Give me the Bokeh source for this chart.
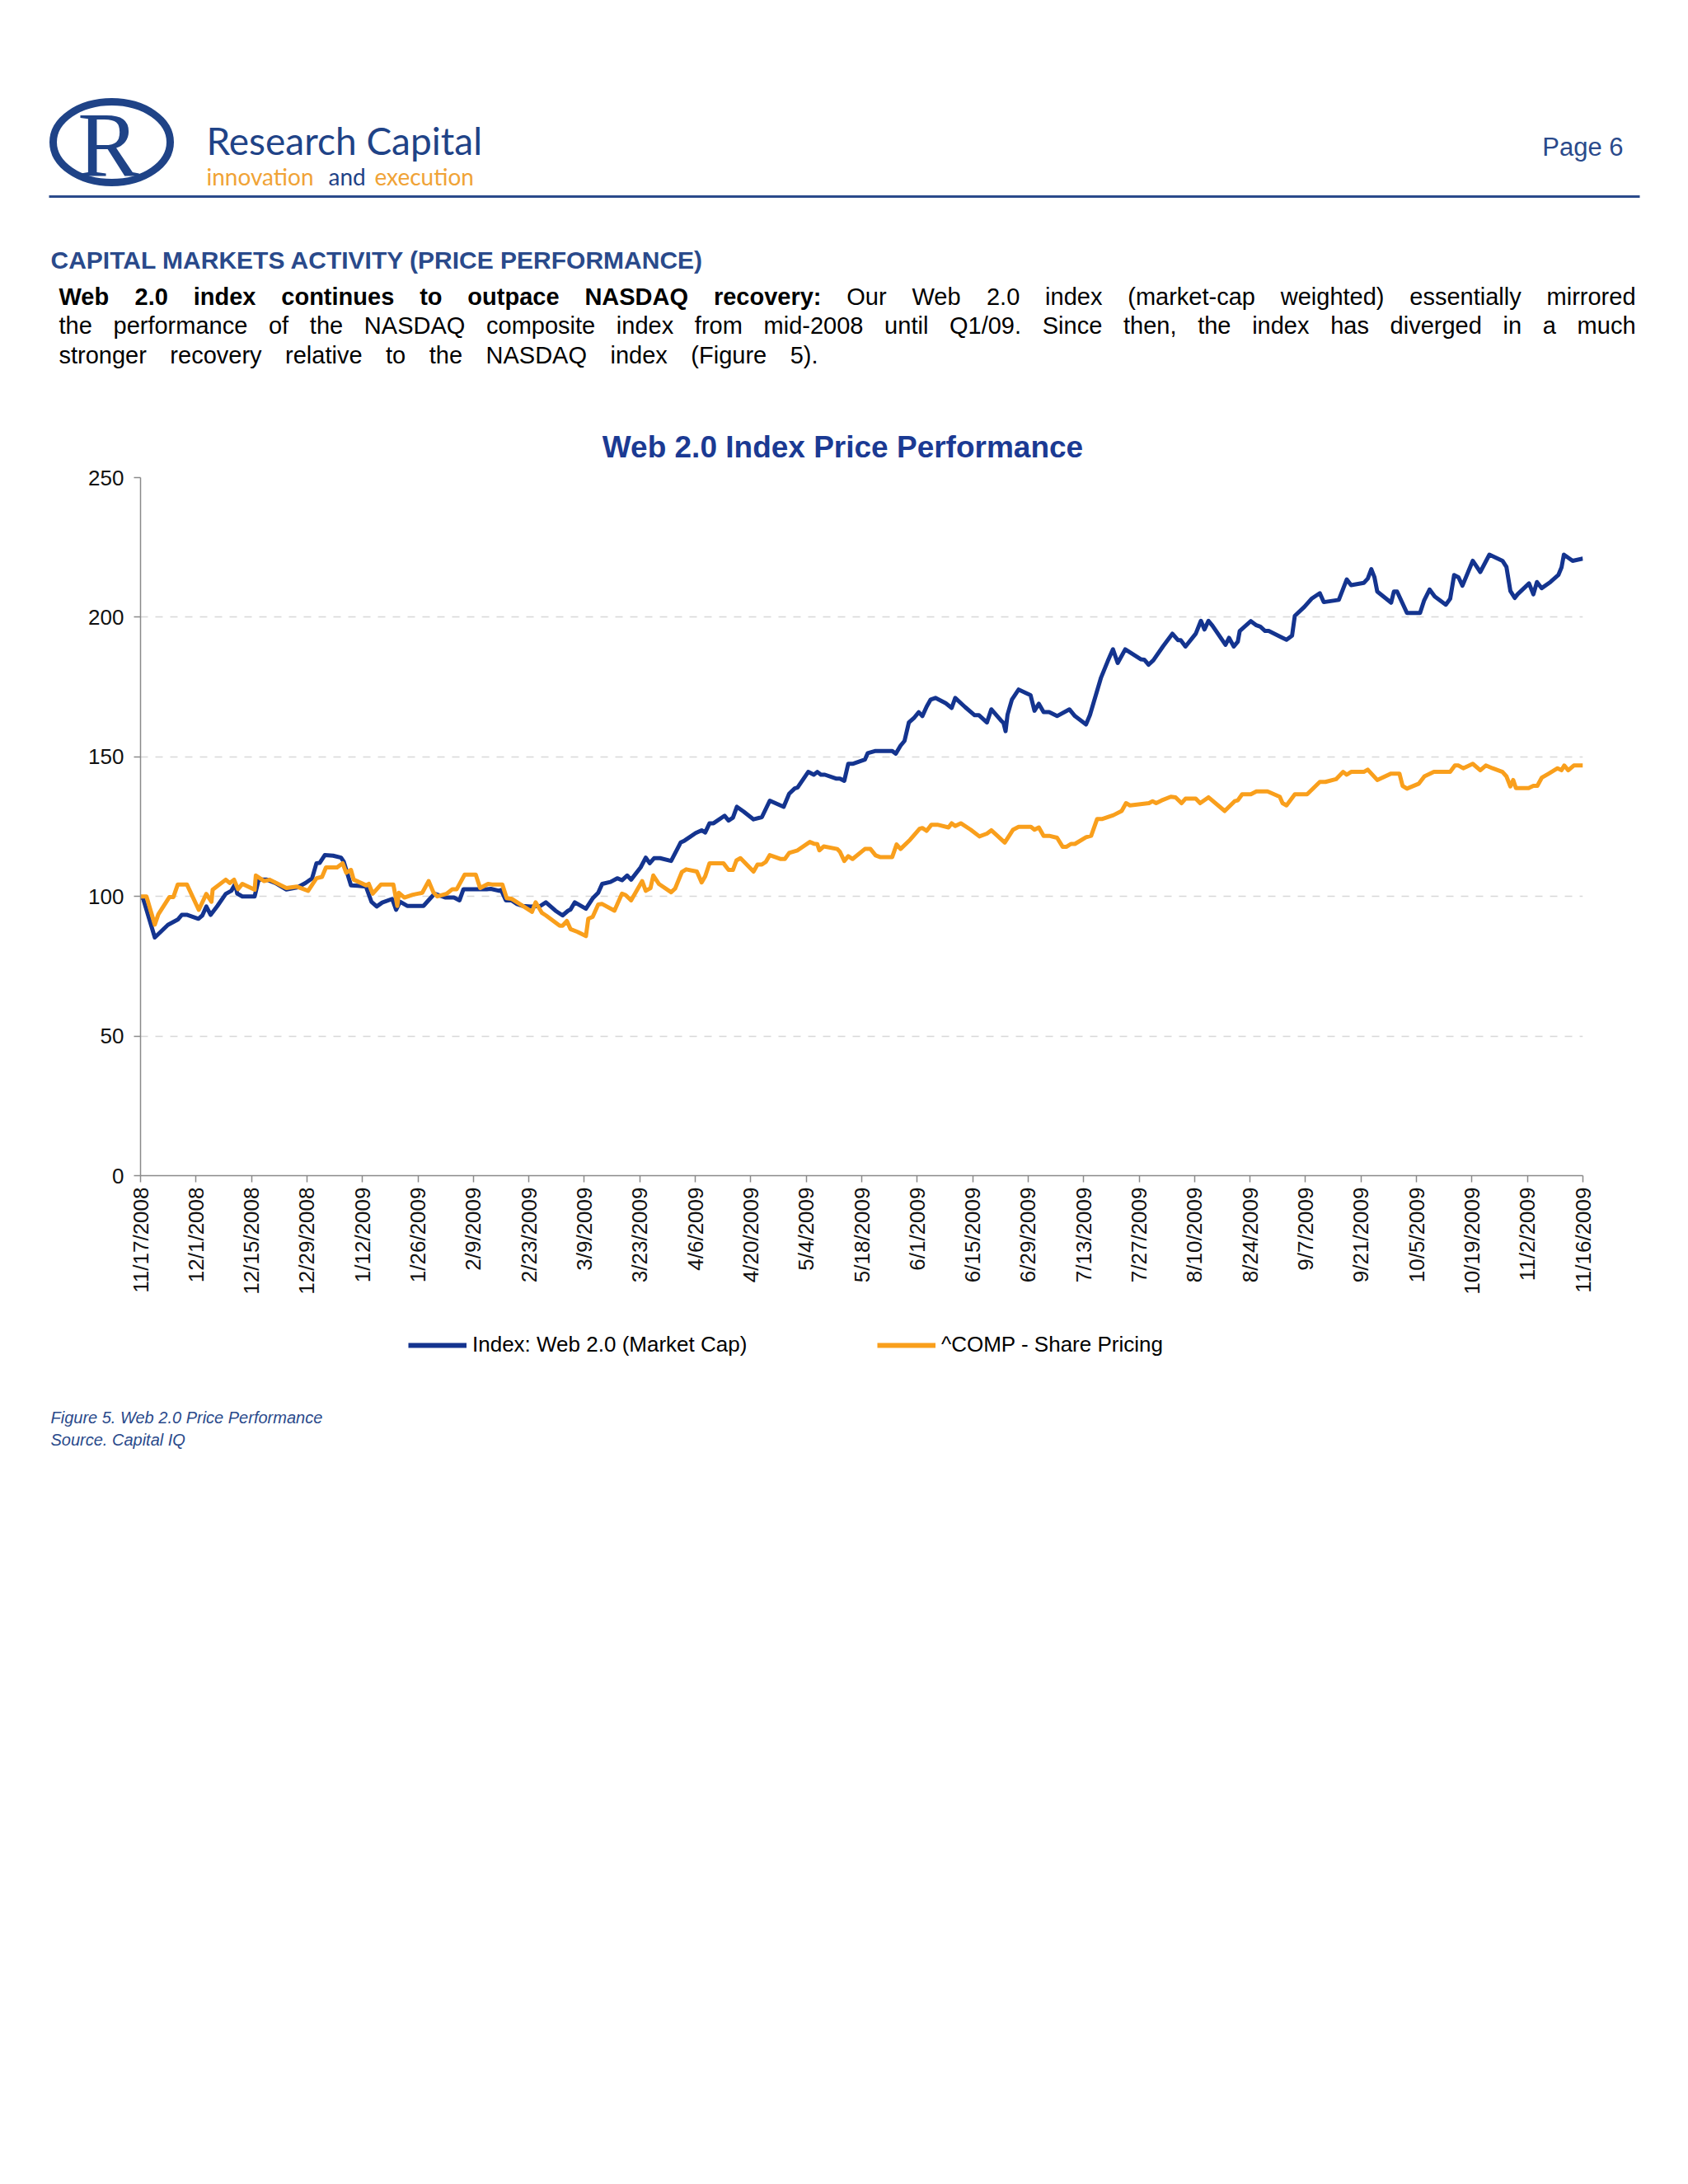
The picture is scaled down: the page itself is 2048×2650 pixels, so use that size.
import math
from bokeh.plotting import figure
from bokeh.layouts import column
from bokeh.models import Range1d, FixedTicker, Legend, LegendItem
from bokeh.core.properties import value
from bokeh.embed import file_html
from bokeh.resources import INLINE

# ---------------- data (days since 11/17/2008, index value) ----------------
web_days = [0, 0.7, 3.6, 6.9, 9.4, 10.4, 11.8, 14.6, 15.6, 16.6, 17.7, 19.4, 21.5, 22.9, 23.9,
            24.4, 25.7, 28.8, 29.8, 31.9, 34.0, 36.8, 39.5, 41.6, 43.3, 44.4, 45.2, 46.5, 48.6,
            50.6, 51.3, 53.1, 54.8, 56.9, 58.3, 59.6, 61.0, 63.5, 64.5, 65.5, 67.3, 71.4, 72.8,
            74.2, 77.0, 79.1, 80.5, 81.5, 87.4, 88.4, 90.5, 91.0, 92.2, 93.6, 95.0, 96.4, 98.5,
            100.9, 102.3, 104.7, 106.5, 107.9, 108.5, 109.6, 112.4, 114.1, 115.5, 116.5, 118.6,
            120.3, 121.5, 122.8, 123.8, 126.2, 127.5, 128.5, 129.6, 131.1, 133.9, 136.3, 137.3,
            140.1, 141.6, 142.5, 143.6, 144.6, 147.4, 148.4, 149.5, 150.5, 152.2, 154.7, 156.8,
            158.8, 162.3, 163.7, 165.1, 165.8, 168.5, 169.9, 170.8, 171.7, 172.7, 175.5, 176.5,
            177.6, 178.6, 179.7, 182.8, 183.5, 185.5, 189.7, 190.6, 191.8, 192.8, 193.9, 195.3,
            196.4, 197.3, 198.4, 199.4, 200.6, 203.2, 204.7, 205.6, 208.1, 210.5, 211.6, 213.6,
            214.7, 217.1, 217.8, 218.3, 218.8, 219.9, 221.6, 224.6, 225.6, 226.7, 227.9, 229.3,
            231.3, 234.4, 235.8, 238.6, 239.6, 242.4, 244.1, 245.4, 246.6, 248.5, 252.5, 253.3,
            254.4, 255.6, 258.0, 260.4, 261.8, 262.5, 263.7, 266.3, 267.6, 268.5, 269.5, 270.5,
            273.8, 274.7, 275.9, 276.9, 277.4, 280.2, 281.6, 282.6, 283.8, 284.7, 287.8, 289.2,
            290.6, 291.3, 293.7, 295.5, 297.6, 298.6, 302.4, 304.4, 305.5, 308.7, 309.7, 310.6,
            311.4, 312.1, 315.6, 316.3, 317.1, 319.6, 322.9, 323.9, 325.3, 326.6, 329.4, 330.5,
            331.5, 332.6, 333.6, 336.2, 338.1, 340.4, 343.7, 344.7, 345.7, 346.8, 347.5, 350.4,
            351.5, 352.4, 353.6, 355.8, 357.8, 358.6, 359.2, 361.4, 364.0]
web_vals = [100.0, 99.0, 85.3, 89.8, 91.7, 93.4, 93.4, 92.0, 93.2, 96.4, 93.4, 96.6, 100.9, 102.0,
            104.5, 101.0, 100.0, 100.0, 106.0, 106.0, 104.8, 102.5, 103.2, 104.8, 106.5, 111.9,
            112.0, 114.8, 114.6, 113.9, 112.4, 104.0, 103.8, 103.5, 98.0, 96.4, 97.8, 99.1, 95.2,
            98.1, 96.6, 96.6, 98.8, 101.0, 99.6, 99.6, 98.6, 102.6, 102.6, 102.7, 102.0, 102.3,
            98.6, 98.6, 97.3, 96.6, 96.4, 96.6, 97.9, 94.9, 93.2, 94.9, 95.3, 97.9, 95.6, 99.3,
            101.3, 104.5, 105.2, 106.5, 105.8, 107.5, 106.0, 110.4, 113.9, 111.9, 113.7, 113.7,
            112.7, 119.3, 120.0, 122.7, 123.7, 122.9, 126.2, 126.2, 128.9, 127.2, 128.2, 132.1,
            130.4, 127.6, 128.4, 134.3, 132.1, 136.8, 138.7, 139.0, 144.6, 143.6, 144.6, 143.6,
            143.6, 142.2, 142.2, 141.4, 147.5, 147.5, 149.0, 151.3, 152.1, 152.1, 151.1, 154.0,
            155.7, 162.3, 164.1, 166.0, 164.6, 168.0, 170.5, 171.1, 169.2, 167.5, 171.1, 167.8,
            164.9, 164.9, 162.3, 167.0, 163.1, 162.1, 159.2, 165.1, 170.5, 174.1, 172.1, 166.5,
            169.0, 166.0, 166.0, 164.6, 167.0, 164.6, 161.6, 165.0, 178.4, 184.3, 188.5, 183.6,
            188.5, 184.9, 184.8, 183.0, 184.6, 189.5, 194.1, 191.8, 191.8, 189.5, 194.1, 198.7,
            195.6, 198.7, 197.0, 190.1, 192.6, 189.5, 191.2, 195.1, 198.6, 197.1, 196.6, 195.1,
            195.1, 192.9, 191.9, 193.4, 200.5, 203.7, 206.6, 208.6, 205.4, 206.2, 213.5, 211.5,
            212.3, 213.8, 217.2, 214.3, 209.2, 205.2, 209.2, 209.2, 201.5, 201.5, 205.9, 209.9,
            207.4, 204.5, 206.6, 215.1, 214.3, 211.3, 220.2, 216.2, 222.4, 220.2, 218.0, 209.4,
            206.9, 208.2, 212.1, 208.2, 212.6, 210.4, 212.6, 215.1, 217.8, 222.4, 220.2, 221.0]

comp_days = [0, 1.5, 3.6, 4.5, 7.3, 8.3, 9.4, 11.7, 14.7, 16.6, 17.9, 18.2, 21.5, 22.5, 23.6, 24.6,
             25.7, 28.8, 29.1, 31.2, 32.6, 36.8, 39.5, 42.3, 44.4, 45.8, 46.8, 49.6, 51.0, 51.9,
             53.1, 53.8, 56.9, 57.6, 58.6, 60.7, 63.8, 64.8, 65.2, 66.6, 68.7, 71.1, 72.7, 73.9,
             74.9, 77.3, 78.7, 79.8, 81.8, 84.6, 85.7, 87.7, 88.7, 91.3, 92.4, 93.6, 95.7, 98.8,
             99.7, 101.3, 102.3, 105.8, 106.5, 107.6, 108.5, 110.3, 112.4, 113.0, 114.1, 115.5,
             116.5, 119.6, 121.5, 122.4, 123.8, 126.6, 127.5, 128.7, 129.4, 130.8, 133.9, 134.9,
             136.6, 137.7, 140.4, 141.6, 142.5, 143.6, 147.1, 148.4, 149.5, 150.4, 151.4, 154.7,
             155.7, 156.8, 157.8, 158.8, 161.6, 162.6, 163.7, 165.8, 168.9, 169.9, 170.8, 171.3,
             172.4, 175.8, 176.5, 177.6, 178.6, 179.7, 182.8, 184.2, 185.5, 186.6, 189.7, 190.8,
             191.8, 194.2, 196.6, 197.3, 198.4, 199.6, 201.1, 203.9, 204.7, 205.6, 207.0, 209.5,
             211.7, 213.6, 214.7, 218.1, 220.2, 221.6, 224.7, 225.6, 226.7, 227.9, 229.3, 231.3,
             232.7, 233.7, 234.8, 235.8, 238.6, 239.9, 241.4, 242.6, 245.5, 247.6, 248.7, 249.7,
             254.5, 255.4, 256.3, 257.7, 260.0, 261.2, 262.7, 263.7, 266.3, 267.4, 269.5, 273.6,
             276.1, 276.9, 278.0, 280.2, 281.6, 284.4, 287.5, 288.2, 289.2, 291.3, 294.4, 297.6,
             299.0, 301.7, 303.5, 304.4, 305.5, 308.7, 309.7, 312.1, 315.6, 317.7, 318.5, 319.6,
             322.6, 324.0, 326.4, 330.5, 331.7, 332.6, 333.8, 336.2, 338.1, 339.5, 341.2, 343.7,
             344.7, 345.7, 346.4, 347.1, 350.3, 351.5, 352.5, 353.6, 355.4, 357.6, 358.6, 359.3,
             360.3, 361.7, 364.0]
comp_vals = [100.0, 100.0, 89.9, 93.6, 99.8, 99.8, 104.3, 104.3, 95.2, 100.9, 98.1, 102.4, 106.0,
             104.8, 106.0, 102.6, 104.5, 102.4, 107.5, 105.5, 106.0, 103.0, 103.5, 102.0, 106.5,
             107.0, 110.4, 110.4, 111.9, 108.5, 109.5, 106.0, 104.0, 104.5, 101.0, 104.3, 104.3,
             96.6, 101.3, 99.6, 100.6, 101.3, 105.5, 101.5, 100.0, 101.0, 102.6, 102.6, 107.8,
             107.8, 103.0, 104.5, 104.3, 104.3, 99.4, 99.2, 97.3, 94.5, 97.9, 94.1, 93.2, 89.5,
             89.5, 91.2, 88.3, 87.3, 85.8, 92.0, 92.7, 97.1, 97.3, 94.9, 101.0, 100.5, 98.6, 105.5,
             102.0, 103.0, 107.5, 104.5, 101.5, 102.8, 108.7, 109.7, 108.9, 105.0, 107.2, 111.9,
             111.9, 109.5, 109.5, 112.9, 113.7, 108.9, 111.4, 111.4, 112.4, 114.8, 113.4, 113.4,
             115.6, 116.5, 119.5, 118.9, 118.7, 116.5, 117.9, 117.0, 116.0, 112.7, 114.4, 113.4,
             117.0, 117.0, 114.7, 114.1, 114.1, 118.6, 117.0, 120.3, 124.2, 124.5, 123.5, 125.7,
             125.7, 124.7, 126.2, 125.2, 126.2, 123.9, 121.5, 122.5, 123.7, 119.3, 123.9, 124.9,
             124.9, 123.9, 124.7, 121.7, 121.7, 121.0, 117.8, 117.8, 118.8, 118.8, 121.2, 121.7,
             127.7, 127.7, 129.1, 130.6, 133.4, 132.6, 133.4, 134.1, 133.4, 134.4, 135.7, 135.5,
             133.4, 135.0, 135.0, 133.4, 135.5, 130.6, 134.1, 134.4, 136.6, 136.6, 137.6, 137.6,
             135.7, 133.4, 132.6, 136.6, 136.6, 141.0, 141.0, 142.0, 144.6, 143.6, 144.6, 144.6,
             145.4, 141.7, 144.0, 144.0, 139.6, 138.6, 140.4, 143.0, 144.6, 144.6, 146.9, 146.9,
             145.9, 147.5, 145.2, 146.9, 145.9, 144.6, 143.0, 139.4, 141.7, 138.8, 138.8, 139.6,
             139.6, 142.5, 144.0, 145.9, 145.2, 146.9, 145.2, 146.9, 146.9]

tick_days = [0, 14, 28, 42, 56, 70, 84, 98, 112, 126, 140, 154, 168, 182, 196, 210, 224, 238,
             252, 266, 280, 294, 308, 322, 336, 350, 364]
tick_labels = ["11/17/2008", "12/1/2008", "12/15/2008", "12/29/2008", "1/12/2009", "1/26/2009",
               "2/9/2009", "2/23/2009", "3/9/2009", "3/23/2009", "4/6/2009", "4/20/2009",
               "5/4/2009", "5/18/2009", "6/1/2009", "6/15/2009", "6/29/2009", "7/13/2009",
               "7/27/2009", "8/10/2009", "8/24/2009", "9/7/2009", "9/21/2009", "10/5/2009",
               "10/19/2009", "11/2/2009", "11/16/2009"]
y_ticks = [0, 50, 100, 150, 200, 250]
series_names = ["Index: Web 2.0 (Market Cap)", "^COMP - Share Pricing"]

# ---------------- page layout (page pixels) ----------------
W = 2040
A_H = 565            # header figure: page y 0..565
B_TOP, B_BOT = 565, 1600
C_TOP, C_BOT = 1600, 2640
FL, FR, FT, FB = 170, 1920, 579, 1426   # chart frame in page coordinates
BLUE = "#14348F"
ORANGE = "#F99F1C"
NAVY = "#2A4A8B"
LOGO = "#1F4387"
ORNG2 = "#F0A336"


def no_align(f):
    try:
        f.frame_align = False
    except Exception:
        pass


def page_fig(top, bottom):
    f = figure(width=W, height=bottom - top, x_range=Range1d(0, W),
               y_range=Range1d(bottom, top), x_axis_type=None, y_axis_type=None,
               output_backend="svg", toolbar_location=None, min_border=0)
    f.outline_line_color = None
    f.background_fill_color = "white"
    f.border_fill_color = "white"
    no_align(f)
    return f


def T(f, X, Y, text, size, color="#000000", font="Liberation Sans", style="normal",
      align="left", baseline="alphabetic"):
    f.text(x=[X], y=[Y], text=[text], text_font=value(font), text_font_size=value(f"{size}px"),
           text_font_style=style, text_color=color, text_align=align, text_baseline=baseline)


# ================= A: header =================
A = page_fig(0, A_H)
A.ellipse(x=[135], y=[172], width=[142], height=[98], fill_color=None, line_color=LOGO,
          line_width=9)
T(A, 131, 174, "R", 112, color=LOGO, font="Liberation Serif", align="center", baseline="middle")
T(A, 250, 170, "Research Capital", 46, color=LOGO, font="Lato")
T(A, 250, 213, "innovation", 28, color=ORNG2, font="Lato")
T(A, 398, 213, "and", 28, color=LOGO, font="Lato")
T(A, 454, 213, "execution", 28, color=ORNG2, font="Lato")
T(A, 1969, 178, "Page 6", 31, color=NAVY, align="right")
A.segment(x0=[59], y0=[238], x1=[1989], y1=[238], line_color=NAVY, line_width=3)
T(A, 61, 315, "CAPITAL MARKETS ACTIVITY (PRICE PERFORMANCE)", 30, color=NAVY, style="bold")

AR = dict(zip(" ()-,./:0123456789", [278, 333, 333, 333, 278, 278, 278, 278] + [556] * 10))
AR.update(dict(zip("ABCDEFGHIJKLMNOPQRSTUVWXYZ",
                   [667, 667, 722, 722, 667, 611, 778, 722, 278, 500, 667, 556, 833, 722, 778,
                    667, 778, 722, 667, 611, 722, 667, 944, 667, 667, 611])))
AR.update(dict(zip("abcdefghijklmnopqrstuvwxyz",
                   [556, 556, 500, 556, 556, 278, 556, 556, 222, 222, 500, 222, 833, 556, 556,
                    556, 556, 333, 500, 278, 556, 500, 722, 500, 500, 500])))
AB = dict(zip(" ()-,./:0123456789", [278, 333, 333, 333, 278, 278, 278, 333] + [556] * 10))
AB.update(dict(zip("ABCDEFGHIJKLMNOPQRSTUVWXYZ",
                   [722, 722, 722, 722, 667, 611, 778, 722, 278, 556, 722, 611, 833, 722, 778,
                    667, 778, 722, 667, 611, 722, 667, 944, 667, 667, 611])))
AB.update(dict(zip("abcdefghijklmnopqrstuvwxyz",
                   [556, 611, 556, 611, 556, 333, 611, 611, 278, 278, 556, 278, 889, 611, 611,
                    611, 611, 389, 556, 333, 611, 556, 778, 556, 556, 500])))


def tw(s, bold, size):
    t = AB if bold else AR
    return sum(t.get(c, 556) for c in s) * size / 1000.0


PS = 29
para = [
    ("Web 2.0 index continues to outpace NASDAQ recovery:",
     "Our Web 2.0 index (market-cap weighted) essentially mirrored", 71, 1984, 359),
    ("", "the performance of the NASDAQ composite index from mid-2008 until Q1/09. "
         "Since then, the index has diverged in a much", 71, 1984, 394),
    ("", "stronger recovery relative to the NASDAQ index (Figure 5).", 71, 992, 430),
]
for bold_part, normal_part, x0, x1, base in para:
    words = [(w, True) for w in bold_part.split()] + [(w, False) for w in normal_part.split()]
    total = sum(tw(w, b, PS) for w, b in words)
    gap = (x1 - x0 - total) / (len(words) - 1)
    x = x0
    for w, b in words:
        T(A, x, base, w, PS, style="bold" if b else "normal")
        x += tw(w, b, PS) + gap

T(A, 1022, 542, "Web 2.0 Index Price Performance", 37, color="#1B3A93", style="bold",
  align="center")

# ================= B: chart =================
B = figure(width=W, height=B_BOT - B_TOP, x_range=Range1d(0, 364), y_range=Range1d(0, 250),
           output_backend="svg", toolbar_location=None,
           min_border_left=FL, min_border_right=W - FR,
           min_border_top=FT - B_TOP, min_border_bottom=B_BOT - FB)
no_align(B)
B.outline_line_color = None
B.background_fill_color = "white"
B.border_fill_color = "white"
B.xaxis.ticker = FixedTicker(ticks=tick_days)
B.xaxis.major_label_overrides = {d: s for d, s in zip(tick_days, tick_labels)}
B.xaxis.major_label_orientation = math.pi / 2
B.yaxis.ticker = FixedTicker(ticks=y_ticks)
for ax in (B.xaxis[0], B.yaxis[0]):
    ax.axis_line_color = "#8A8A8A"
    ax.axis_line_width = 1.5
    ax.major_tick_line_color = "#8A8A8A"
    ax.major_tick_line_width = 1.5
    ax.major_tick_out = 8
    ax.major_tick_in = 0
    ax.minor_tick_line_color = None
    ax.major_label_text_font = "Liberation Sans"
    ax.major_label_text_font_size = "26px"
    ax.major_label_text_color = "#111111"
B.yaxis.major_label_standoff = 12
B.xaxis.major_label_standoff = 6
B.xgrid.visible = False
B.ygrid.grid_line_color = "#D8D8D8"
B.ygrid.grid_line_dash = "9 9"
B.ygrid.grid_line_width = 1.5

B.line(web_days, web_vals, line_color=BLUE, line_width=5, line_join="round")
B.line(comp_days, comp_vals, line_color=ORANGE, line_width=5, line_join="round")

# ================= C: legend + caption =================
C = page_fig(C_TOP, C_BOT)
# legend swatch renderers (kept outside the visible x-range)
ka = C.line(x=[-60, -40], y=[1700, 1700], line_color=BLUE, line_width=6)
kb = C.line(x=[-60, -40], y=[1700, 1700], line_color=ORANGE, line_width=6)
for rend, name, X in ((ka, series_names[0], 495), (kb, series_names[1], 1064)):
    lg = Legend(items=[LegendItem(label=name, renderers=[rend])],
                location=(X, (C_BOT - C_TOP) - (1647 - C_TOP)),
                orientation="horizontal", glyph_width=71, glyph_height=26, label_height=26,
                label_standoff=7, padding=0, margin=0, spacing=0, border_line_color=None,
                background_fill_alpha=0, label_text_font="Liberation Sans",
                label_text_font_size="26px", label_text_color="#000000",
                label_text_baseline="middle")
    C.add_layout(lg)

T(C, 61, 1719, "Figure 5. Web 2.0 Price Performance", 20, color=NAVY, style="italic")
T(C, 61, 1746, "Source. Capital IQ", 20, color=NAVY, style="italic")

page = column(A, B, C, spacing=0)
open("out.html", "w").write(file_html(page, INLINE))
